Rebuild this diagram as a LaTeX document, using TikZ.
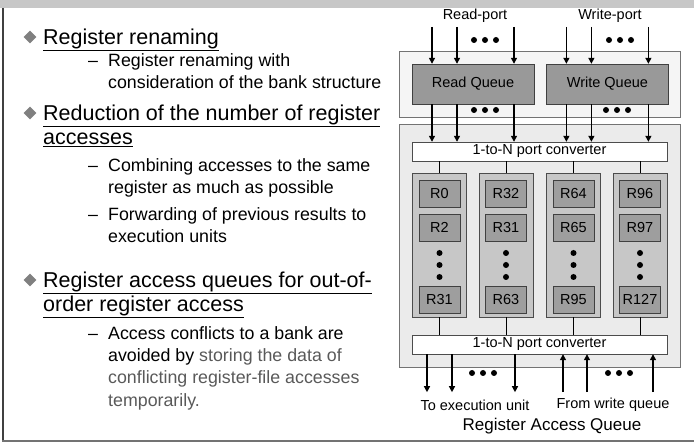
\documentclass[tikz,border=0pt]{standalone}
\usepackage{fontspec}
\setmainfont{Liberation Sans}
\usetikzlibrary{shapes.geometric, arrows.meta, positioning}

\newcommand{\dotrow}[1]{\foreach \d in {-11,0,11} {\fill ([xshift=\d pt]#1) circle (3pt);}}

\begin{document}
\begin{tikzpicture}[
  x=1pt, y=-1pt,
  font=\fontsize{14.5}{17}\selectfont,
  frameBox/.style={rectangle, draw=black!55, fill=black!4, minimum width=281pt, inner sep=0pt},
  queueNode/.style={rectangle, draw=black!75, fill=black!40, minimum width=122pt, minimum height=40pt, inner sep=0pt},
  convNode/.style={rectangle, draw=black!70, fill=white, minimum width=255pt, minimum height=19pt, inner sep=0pt},
  bankNode/.style={rectangle, draw=black!70, fill=black!22, minimum width=54pt, minimum height=144pt, inner sep=0pt},
  regNode/.style={rectangle, draw=black!75, fill=black!38, minimum width=41pt, minimum height=27pt, inner sep=0pt},
  portArrow/.style={draw, line width=1.3pt, -{Triangle[length=6pt, width=6pt]}},
  bankLine/.style={draw, line width=1pt},
  mainItem/.style={anchor=base west, align=left, inner sep=0pt, font=\fontsize{21.5}{24}\selectfont},
  subItem/.style={anchor=base west, align=left, inner sep=0pt, font=\fontsize{17.8}{22.3}\selectfont},
  bulletMark/.style={diamond, fill=black!50, minimum size=13pt, inner sep=0pt},
  dashMark/.style={anchor=base west, inner sep=0pt, font=\fontsize{17.8}{22.3}\selectfont}
]
  \useasboundingbox (0,0) rectangle (694,443);

  % slide frame
  \shade[left color=black!22, middle color=black!50, right color=black!22] (0,0) rectangle (694,7.5);
  \draw[black!75, line width=1.5pt] (3,8) -- (3,441);
  \draw[black!55, line width=1.2pt] (2.25,441) -- (694,441);

  % left text (anchors sit on the last line's baseline)
  \node [bulletMark] (bulA) at (30,37) {};
  \node [mainItem] (itemA) at (43,44.7) {\underline{Register renaming}};
  \node [dashMark] (dashA) at (88,66.4) {--};
  \node [subItem] (subA) at (108,88.7) {Register renaming with\\consideration of the bank structure};

  \node [bulletMark] (bulB) at (30,113) {};
  \node [mainItem] (itemB) at (43,144.7) {\underline{Reduction of the number of register}\\\underline{accesses}};
  \node [dashMark] (dashB) at (88,171.4) {--};
  \node [subItem] (subB) at (108,193.7) {Combining accesses to the same\\register as much as possible};
  \node [dashMark] (dashC) at (88,220.4) {--};
  \node [subItem] (subC) at (108,242.7) {Forwarding of previous results to\\execution units};

  \node [bulletMark] (bulC) at (30,280) {};
  \node [mainItem] (itemC) at (43,311.7) {\underline{Register access queues for out-of-}\\\underline{order register access}};
  \node [dashMark] (dashD) at (88,339.4) {--};
  \node [subItem] (subD) at (108,406.3) {Access conflicts to a bank are\\avoided by \textcolor{black!65}{storing the data of}\\\textcolor{black!65}{conflicting register-file accesses}\\\textcolor{black!65}{temporarily.}};

  % queues
  \node [frameBox, minimum height=66pt] (qFrame) at (539.5,84) {};
  \node [frameBox, minimum height=243pt, fill=black!8] (rFrame) at (539.5,245.5) {};
  \node [queueNode] (readQ) at (473,84) {Read Queue};
  \node [queueNode] (writeQ) [right=12pt of readQ] {Write Queue};
  \node [convNode] (conv1) at (539.5,151.5) {1-to-N port converter};
  \node [convNode] (conv2) at (539.5,344.5) {1-to-N port converter};

  \node (readLbl) at (475,16) {Read-port};
  \node (writeLbl) at (610,16) {Write-port};

  \foreach \q in {readQ, writeQ} {
    \foreach \dx in {-41,-16,41} {
      \draw [portArrow] ([xshift=\dx pt, yshift=37pt]\q.north) -- ([xshift=\dx pt]\q.north);
      \draw [portArrow] ([xshift=\dx pt]\q.south) -- ([xshift=\dx pt]\q.south |- conv1.north);
    }
  }
  \dotrow{485,40}
  \dotrow{620,40}
  \dotrow{485,110}
  \dotrow{617,110}

  % register banks
  \foreach \b/\x/\ra/\rb/\rc in {1/439.5/R0/R2/R31, 2/506/R32/R31/R63, 3/573.5/R64/R65/R95, 4/640/R96/R97/R127} {
    \node [bankNode] (bank\b) at (\x,245) {};
    \node [regNode] (regA\b) [below=7pt of bank\b.north] {\ra};
    \node [regNode] (regB\b) [below=7pt of regA\b] {\rb};
    \node [regNode] (regC\b) [above=4pt of bank\b.south] {\rc};
    \foreach \dy in {253,265,277} {\fill (\x,\dy) circle (3pt);}
    \draw [bankLine] (bank\b.north) -- (bank\b.north |- conv1.south);
    \draw [bankLine] (bank\b.south) -- (bank\b.south |- conv2.north);
  }

  % outputs
  \foreach \dx in {-112.5,-87.5,-24.5} {
    \draw [portArrow] ([xshift=\dx pt]conv2.south) -- ([xshift=\dx pt, yshift=-38pt]conv2.south);
  }
  \foreach \dx in {23.5,47.5,113.5} {
    \draw [portArrow] ([xshift=\dx pt, yshift=-38pt]conv2.south) -- ([xshift=\dx pt]conv2.south);
  }
  \dotrow{483,373}
  \dotrow{619,373}

  \node (execLbl) at (475,405) {To execution unit};
  \node (fromLbl) at (613,405) {From write queue};
  \node [font=\fontsize{17}{20}\selectfont] (raqLbl) at (552,426) {Register Access Queue};
\end{tikzpicture}
\end{document}
